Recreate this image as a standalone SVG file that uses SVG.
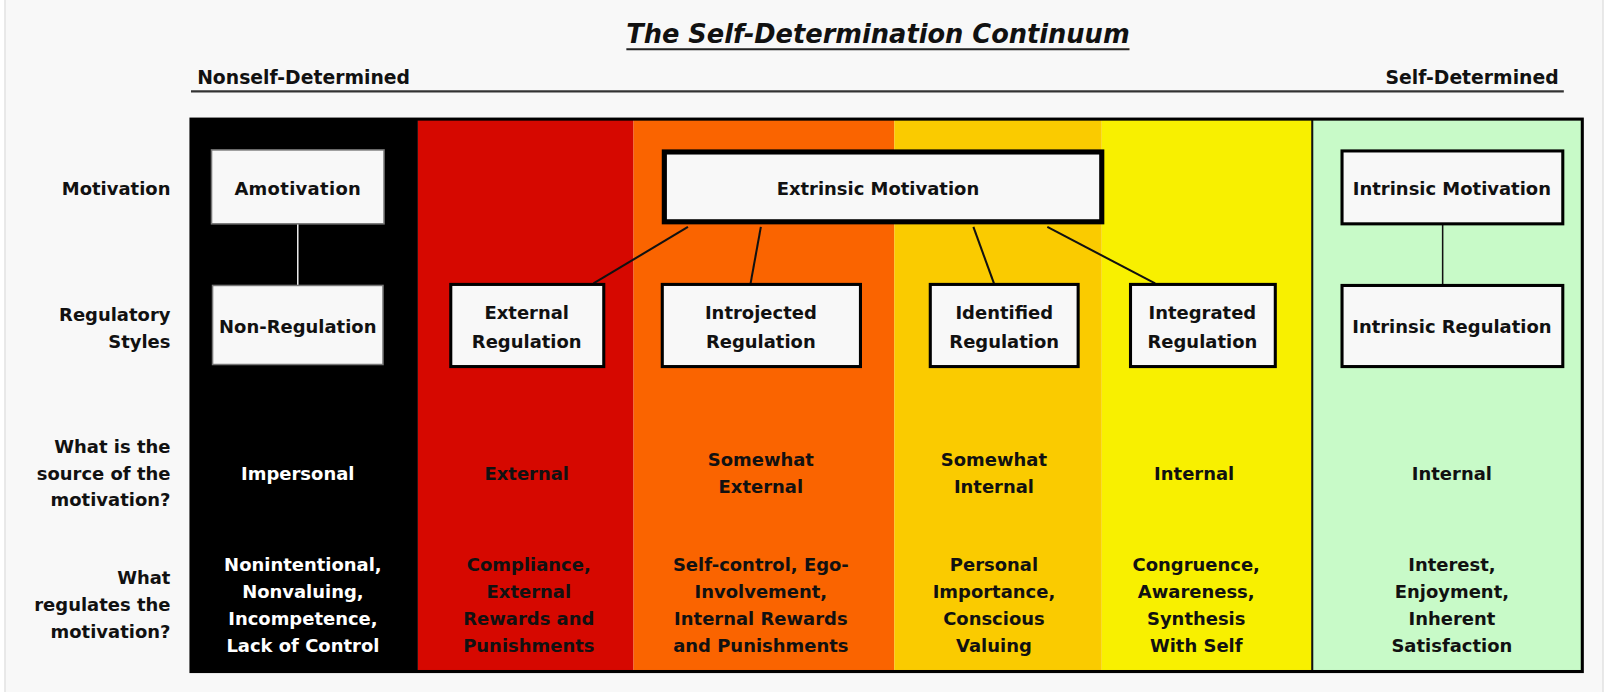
<svg xmlns="http://www.w3.org/2000/svg" width="1610" height="692" viewBox="0 0 1610 692">
<style>
text{font-family:"DejaVu Sans","Verdana",sans-serif;font-weight:bold;font-size:17.5px;fill:#111}
.lbl{text-anchor:end}
.c{text-anchor:middle}
.w{fill:#ffffff}
.hd{font-size:18.3px}
.box{fill:#f8f8f8;stroke:#000;stroke-width:3}
.boxb{fill:#f8f8f8;stroke:#777;stroke-width:1.5}
.title{font-size:25px;font-style:italic;text-anchor:middle}
.conn{stroke:#111;stroke-width:2;fill:none}
</style>
<rect x="0" y="0" width="1610" height="692" fill="#ffffff"/>
<rect x="5" y="-2" width="1598" height="696" fill="#f8f8f8" stroke="#e2e2e2" stroke-width="1.5"/>

<g transform="scale(1.0268)">
<g id="header">
<text class="title" x="855" y="42">The Self-Determination Continuum</text>
<line x1="610" y1="48" x2="1100" y2="48" stroke="#222" stroke-width="2"/>
<text class="hd" x="192" y="82">Nonself-Determined</text>
<text class="hd" x="1518" y="82" text-anchor="end">Self-Determined</text>
<line x1="186" y1="89" x2="1523" y2="89" stroke="#333" stroke-width="2"/>
</g>

<g id="columns">
<rect x="186" y="116" width="221" height="538" fill="#000000"/>
<rect x="407" y="116" width="210" height="538" fill="#d60800"/>
<rect x="617" y="116" width="254" height="538" fill="#fa6400"/>
<rect x="871" y="116" width="202" height="538" fill="#facb00"/>
<rect x="1073" y="116" width="205" height="538" fill="#f8f000"/>
<rect x="1278" y="116" width="263" height="538" fill="#c8fac8"/>
<line x1="1278" y1="116" x2="1278" y2="654" stroke="#111" stroke-width="2"/>
<rect x="186" y="116" width="1355" height="538" fill="none" stroke="#000" stroke-width="3"/>
</g>

<g id="row-labels">
<text class="lbl" x="166" y="190">Motivation</text>
<text class="lbl" x="166" y="313">Regulatory</text>
<text class="lbl" x="166" y="339">Styles</text>
<text class="lbl" x="166" y="441">What is the</text>
<text class="lbl" x="166" y="467">source of the</text>
<text class="lbl" x="166" y="493">motivation?</text>
<text class="lbl" x="166" y="569">What</text>
<text class="lbl" x="166" y="595">regulates the</text>
<text class="lbl" x="166" y="621">motivation?</text>
</g>

<g id="connectors">
<line x1="290" y1="218" x2="290" y2="278" stroke="#e8e8e8" stroke-width="1.5"/>
<line class="conn" x1="670" y1="221" x2="578" y2="276"/>
<line class="conn" x1="741" y1="221" x2="731" y2="276"/>
<line class="conn" x1="948" y1="221" x2="968" y2="276"/>
<line class="conn" x1="1020" y1="221" x2="1125" y2="276"/>
<line x1="1405" y1="218" x2="1405" y2="278" stroke="#111" stroke-width="1.5"/>
</g>

<g id="amotivation">
<rect class="boxb" x="206" y="146" width="168" height="72"/>
<text class="c" x="290" y="190" letter-spacing="0.3">Amotivation</text>
</g>
<g id="non-regulation">
<rect class="boxb" x="207" y="278" width="166" height="77"/>
<text class="c" x="290" y="324">Non-Regulation</text>
</g>
<g id="extrinsic-motivation">
<rect x="647" y="148" width="426" height="68" fill="#f8f8f8" stroke="#000" stroke-width="5"/>
<text class="c" x="855" y="190">Extrinsic Motivation</text>
</g>
<g id="external-regulation">
<rect class="box" x="439" y="277" width="149" height="80"/>
<text class="c" x="513" y="311">External</text>
<text class="c" x="513" y="339">Regulation</text>
</g>
<g id="introjected-regulation">
<rect class="box" x="645" y="277" width="193" height="80"/>
<text class="c" x="741" y="311">Introjected</text>
<text class="c" x="741" y="339">Regulation</text>
</g>
<g id="identified-regulation">
<rect class="box" x="906" y="277" width="144" height="80"/>
<text class="c" x="978" y="311">Identified</text>
<text class="c" x="978" y="339">Regulation</text>
</g>
<g id="integrated-regulation">
<rect class="box" x="1101" y="277" width="141" height="80"/>
<text class="c" x="1171" y="311">Integrated</text>
<text class="c" x="1171" y="339">Regulation</text>
</g>
<g id="intrinsic-motivation">
<rect class="box" x="1307" y="147" width="215" height="71"/>
<text class="c" x="1414" y="190">Intrinsic Motivation</text>
</g>
<g id="intrinsic-regulation">
<rect class="box" x="1307" y="278" width="215" height="79"/>
<text class="c" x="1414" y="324">Intrinsic Regulation</text>
</g>

<g id="source-row">
<text class="c w" x="290" y="467">Impersonal</text>
<text class="c" x="513" y="467">External</text>
<text class="c" x="741" y="454">Somewhat</text>
<text class="c" x="741" y="480">External</text>
<text class="c" x="968" y="454">Somewhat</text>
<text class="c" x="968" y="480">Internal</text>
<text class="c" x="1163" y="467">Internal</text>
<text class="c" x="1414" y="467">Internal</text>
</g>

<g id="regulates-row">
<text class="c w" x="295" y="556">Nonintentional,</text>
<text class="c w" x="295" y="582">Nonvaluing,</text>
<text class="c w" x="295" y="609">Incompetence,</text>
<text class="c w" x="295" y="635">Lack of Control</text>
<text class="c" x="515" y="556">Compliance,</text>
<text class="c" x="515" y="582">External</text>
<text class="c" x="515" y="609">Rewards and</text>
<text class="c" x="515" y="635">Punishments</text>
<text class="c" x="741" y="556">Self-control, Ego-</text>
<text class="c" x="741" y="582">Involvement,</text>
<text class="c" x="741" y="609">Internal Rewards</text>
<text class="c" x="741" y="635">and Punishments</text>
<text class="c" x="968" y="556">Personal</text>
<text class="c" x="968" y="582">Importance,</text>
<text class="c" x="968" y="609">Conscious</text>
<text class="c" x="968" y="635">Valuing</text>
<text class="c" x="1165" y="556">Congruence,</text>
<text class="c" x="1165" y="582">Awareness,</text>
<text class="c" x="1165" y="609">Synthesis</text>
<text class="c" x="1165" y="635">With Self</text>
<text class="c" x="1414" y="556">Interest,</text>
<text class="c" x="1414" y="582">Enjoyment,</text>
<text class="c" x="1414" y="609">Inherent</text>
<text class="c" x="1414" y="635">Satisfaction</text>
</g>
</g>
</svg>
